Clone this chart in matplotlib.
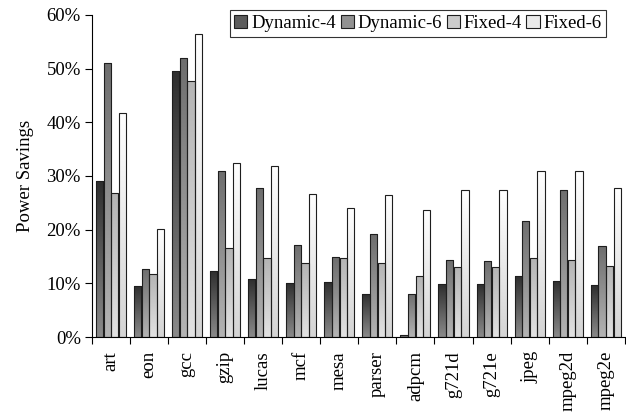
# grouped bars with a vertical gradient fill, power savings per benchmark
import numpy as np
import matplotlib
matplotlib.use("Agg")
import matplotlib.pyplot as plt
from matplotlib.colors import LinearSegmentedColormap
from matplotlib.patches import Patch
from matplotlib.ticker import FuncFormatter, FixedLocator

benchmarks = ["art", "eon", "gcc", "gzip", "lucas", "mcf", "mesa", "parser",
              "adpcm", "g721d", "g721e", "jpeg", "mpeg2d", "mpeg2e"]
series_names = ["Dynamic-4", "Dynamic-6", "Fixed-4", "Fixed-6"]
dynamic4 = [29.0, 9.5, 49.6, 12.3, 10.8, 10.1, 10.3, 8.1, 0.3, 9.8, 9.8, 11.4, 10.5, 9.6]
dynamic6 = [51.0, 12.7, 51.9, 31.0, 27.7, 17.2, 14.9, 19.1, 8.0, 14.4, 14.1, 21.7, 27.4, 16.9]
fixed4 = [26.9, 11.7, 47.6, 16.6, 14.8, 13.7, 14.7, 13.7, 11.3, 13.1, 13.1, 14.7, 14.4, 13.2]
fixed6 = [41.7, 20.2, 56.4, 32.5, 31.8, 26.7, 24.0, 26.5, 23.6, 27.3, 27.3, 31.0, 30.9, 27.7]

# (bottom colour, top colour) of each gradient
shades = [("#8a8a8a", "#2e2e2e"), ("#b4b4b4", "#6e6e6e"),
          ("#e2e2e2", "#b4b4b4"), ("#d4d4d4", "#ffffff")]

plt.rcParams['font.family'] = ['Liberation Serif', 'DejaVu Serif']

fig = plt.figure(figsize=(6.26, 4.13), dpi=100)
ax = fig.add_axes([0.147, 0.184, 0.851, 0.78])

ind = np.arange(len(benchmarks))
width = 0.19
grad = np.linspace(0, 1, 128).reshape(-1, 1)

for k, vals in enumerate([dynamic4, dynamic6, fixed4, fixed6]):
    cmap = LinearSegmentedColormap.from_list("s%d" % k, list(shades[k]))
    bars = ax.bar(ind - 0.4 + 0.1 + k * 0.2, vals, width, facecolor='none',
                  edgecolor='#1e1e1e', linewidth=0.8, zorder=3)
    for b in bars:
        x0, w, h = b.get_x(), b.get_width(), b.get_height()
        im = ax.imshow(grad, extent=(x0, x0 + w, 0, h), origin='lower',
                       cmap=cmap, aspect='auto', zorder=2, interpolation='bilinear')
        im.set_clip_path(b)

ax.set_xlim(-0.5, len(benchmarks) - 0.5)
ax.set_ylim(0, 60)
ax.set_yticks(np.arange(0, 61, 10))
ax.yaxis.set_major_formatter(FuncFormatter(lambda v, p: "%d%%" % v))
ax.tick_params(axis='y', labelsize=13.5, length=5, direction='out', pad=3)

ax.xaxis.set_major_locator(FixedLocator(np.arange(len(benchmarks) + 1) - 0.5))
ax.xaxis.set_minor_locator(FixedLocator(ind))
ax.xaxis.set_major_formatter(FuncFormatter(lambda v, p: ""))
ax.set_xticklabels(benchmarks, minor=True, rotation=90, fontsize=13.5)
ax.tick_params(axis='x', which='major', length=5, direction='out')
ax.tick_params(axis='x', which='minor', length=0, pad=10)

ax.spines['top'].set_visible(False)
ax.spines['right'].set_visible(False)
ax.set_ylabel("Power Savings", fontsize=13.5, labelpad=9)

handles = [Patch(facecolor=np.mean([matplotlib.colors.to_rgb(c) for c in s], axis=0),
                 edgecolor='#1e1e1e', linewidth=0.8) for s in shades]
leg = ax.legend(handles, series_names, loc='upper right', bbox_to_anchor=(0.965, 1.015),
                ncol=4, fontsize=13.5, frameon=True, fancybox=False, edgecolor='black',
                handlelength=0.7, handleheight=0.7, handletextpad=0.2,
                columnspacing=0.25, borderpad=0.25, borderaxespad=0)
leg.get_frame().set_linewidth(0.8)

fig.savefig("out.png", dpi=100)
